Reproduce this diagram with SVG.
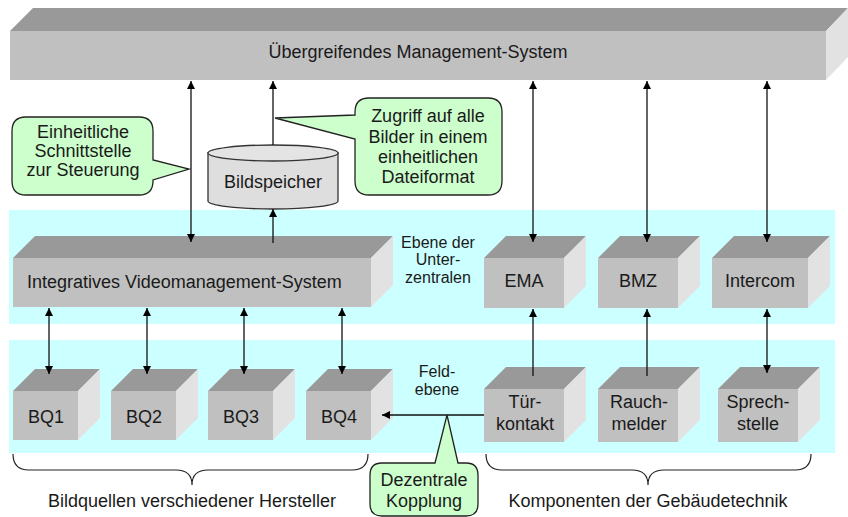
<svg xmlns="http://www.w3.org/2000/svg" width="848" height="517" viewBox="0 0 848 517">
<defs>
<style>
.t{fill:#999999}.f{fill:#c0c0c0}.s{fill:#e2e2e2}
.band{fill:#ccffff}
.txt{font-family:"Liberation Sans",Arial,sans-serif;font-size:18px;fill:#1a1a1a;text-anchor:middle}
.sm{font-size:16px}
.call{fill:#ccffcc;stroke:#222;stroke-width:1.3}
.con{stroke:#111;stroke-width:1.3;fill:none}
.brace{stroke:#222;stroke-width:1.2;fill:none}
</style>
<marker id="ah" viewBox="0 0 10 10" refX="10" refY="5" markerWidth="8" markerHeight="8" markerUnits="userSpaceOnUse" orient="auto-start-reverse">
<path d="M0,0 L10,5 L0,10 Z" fill="#000"/>
</marker>
</defs>
<rect width="848" height="517" fill="#ffffff"/>
<g id="bands">
<rect class="band" x="9" y="210" width="826" height="114"/>
<rect class="band" x="9" y="340" width="826" height="113"/>
</g>
<g id="mgmt">
<polygon class="t" points="10,31 33,8 848,8 826,31"/>
<polygon class="f" points="10,31 826,31 826,80 10,80"/>
<polygon class="s" points="826,31 848,8 848,57 826,80"/>
<text class="txt" x="418" y="58">Übergreifendes Management-System</text>
</g>
<g id="ivs">
<polygon class="t" points="13,258 35,236 393,236 371,258"/>
<polygon class="f" points="13,258 371,258 371,307 13,307"/>
<polygon class="s" points="371,258 393,236 393,285 371,307"/>
<text class="txt" x="27" y="288" style="text-anchor:start">Integratives Videomanagement-System</text>
</g>
<g id="ema">
<polygon class="t" points="484,258 506,236 586,236 564,258"/>
<polygon class="f" points="484,258 564,258 564,308 484,308"/>
<polygon class="s" points="564,258 586,236 586,286 564,308"/>
<text class="txt" x="524" y="287">EMA</text>
</g>
<g id="bmz">
<polygon class="t" points="598,258 620,236 700,236 678,258"/>
<polygon class="f" points="598,258 678,258 678,308 598,308"/>
<polygon class="s" points="678,258 700,236 700,286 678,308"/>
<text class="txt" x="638" y="287">BMZ</text>
</g>
<g id="intercom">
<polygon class="t" points="712,258 734,236 830,236 808,258"/>
<polygon class="f" points="712,258 808,258 808,308 712,308"/>
<polygon class="s" points="808,258 830,236 830,286 808,308"/>
<text class="txt" x="760" y="287">Intercom</text>
</g>
<g id="bq1">
<polygon class="t" points="13,391 35,369 100,369 78,391"/>
<polygon class="f" points="13,391 78,391 78,440 13,440"/>
<polygon class="s" points="78,391 100,369 100,418 78,440"/>
<text class="txt" x="46" y="423">BQ1</text>
</g>
<g id="bq2">
<polygon class="t" points="111,391 133,369 198,369 176,391"/>
<polygon class="f" points="111,391 176,391 176,440 111,440"/>
<polygon class="s" points="176,391 198,369 198,418 176,440"/>
<text class="txt" x="144" y="423">BQ2</text>
</g>
<g id="bq3">
<polygon class="t" points="208,391 230,369 295,369 273,391"/>
<polygon class="f" points="208,391 273,391 273,440 208,440"/>
<polygon class="s" points="273,391 295,369 295,418 273,440"/>
<text class="txt" x="241" y="423">BQ3</text>
</g>
<g id="bq4">
<polygon class="t" points="306,391 328,369 393,369 371,391"/>
<polygon class="f" points="306,391 371,391 371,440 306,440"/>
<polygon class="s" points="371,391 393,369 393,418 371,440"/>
<text class="txt" x="339" y="423">BQ4</text>
</g>
<g id="tuer">
<polygon class="t" points="484,389 506,367 586,367 564,389"/>
<polygon class="f" points="484,389 564,389 564,442 484,442"/>
<polygon class="s" points="564,389 586,367 586,420 564,442"/>
<text class="txt" x="525" y="408">Tür-</text>
<text class="txt" x="525" y="430">kontakt</text>
</g>
<g id="rauch">
<polygon class="t" points="598,389 620,367 700,367 678,389"/>
<polygon class="f" points="598,389 678,389 678,442 598,442"/>
<polygon class="s" points="678,389 700,367 700,420 678,442"/>
<text class="txt" x="639" y="408">Rauch-</text>
<text class="txt" x="639" y="430">melder</text>
</g>
<g id="sprech">
<polygon class="t" points="718,389 740,367 820,367 798,389"/>
<polygon class="f" points="718,389 798,389 798,442 718,442"/>
<polygon class="s" points="798,389 820,367 820,420 798,442"/>
<text class="txt" x="758" y="408">Sprech-</text>
<text class="txt" x="758" y="430">stelle</text>
</g>
<g id="bildspeicher">
<path d="M208,153 V201 A65,8 0 0 0 338,201 V153 Z" fill="#dedede" stroke="#333" stroke-width="1.3"/>
<ellipse cx="273" cy="153" rx="65" ry="8" fill="#e4e4e4" stroke="#333" stroke-width="1.3"/>
<text class="txt" x="273" y="188">Bildspeicher</text>
</g>
<g id="labels">
<text class="txt sm" x="438" y="248">Ebene der</text>
<text class="txt sm" x="438" y="265">Unter-</text>
<text class="txt sm" x="438" y="283">zentralen</text>
<text class="txt sm" x="437" y="377">Feld-</text>
<text class="txt sm" x="437" y="395">ebene</text>
<text class="txt" x="192" y="507">Bildquellen verschiedener Hersteller</text>
<text class="txt" x="648" y="507">Komponenten der Gebäudetechnik</text>
</g>
<g id="braces">
<path class="brace" d="M13,454 Q13,470 29,470 L176,470 Q192,470 192,485 Q192,470 208,470 L352,470 Q368,470 368,454"/>
<path class="brace" d="M486,454 Q486,470 502,470 L632,470 Q648,470 648,485 Q648,470 664,470 L795,470 Q811,470 811,454"/>
</g>
<g id="connectors">
<line class="con" x1="191" y1="81" x2="191" y2="242" marker-start="url(#ah)" marker-end="url(#ah)"/>
<line class="con" x1="273" y1="145" x2="273" y2="81" marker-end="url(#ah)"/>
<line class="con" x1="273" y1="243" x2="273" y2="209" marker-end="url(#ah)"/>
<line class="con" x1="533" y1="81" x2="533" y2="242" marker-start="url(#ah)" marker-end="url(#ah)"/>
<line class="con" x1="647" y1="81" x2="647" y2="242" marker-start="url(#ah)" marker-end="url(#ah)"/>
<line class="con" x1="767" y1="81" x2="767" y2="242" marker-start="url(#ah)" marker-end="url(#ah)"/>
<line class="con" x1="49" y1="308" x2="49" y2="374" marker-start="url(#ah)" marker-end="url(#ah)"/>
<line class="con" x1="147" y1="308" x2="147" y2="374" marker-start="url(#ah)" marker-end="url(#ah)"/>
<line class="con" x1="244" y1="308" x2="244" y2="374" marker-start="url(#ah)" marker-end="url(#ah)"/>
<line class="con" x1="342" y1="308" x2="342" y2="374" marker-start="url(#ah)" marker-end="url(#ah)"/>
<line class="con" x1="533" y1="376" x2="533" y2="309" marker-end="url(#ah)"/>
<line class="con" x1="647" y1="376" x2="647" y2="309" marker-end="url(#ah)"/>
<line class="con" x1="767" y1="309" x2="767" y2="373" marker-start="url(#ah)" marker-end="url(#ah)"/>
<line class="con" x1="484" y1="415" x2="382" y2="415" marker-end="url(#ah)"/>
</g>
<g id="callout-schnittstelle">
<path class="call" d="M26,117 H139 Q153,117 153,131 V160 L189,169 L153,180 V181 Q153,195 139,195 H26 Q12,195 12,181 V131 Q12,117 26,117 Z"/>
<text class="txt" x="83" y="138">Einheitliche</text>
<text class="txt" x="83" y="157">Schnittstelle</text>
<text class="txt" x="83" y="176">zur Steuerung</text>
</g>
<g id="callout-zugriff">
<path class="call" d="M369,98 H488 Q502,98 502,112 V181 Q502,195 488,195 H369 Q355,195 355,181 V139 L275,118 L355,115 V112 Q355,98 369,98 Z"/>
<text class="txt" x="428" y="122">Zugriff auf alle</text>
<text class="txt" x="428" y="143">Bilder in einem</text>
<text class="txt" x="428" y="163">einheitlichen</text>
<text class="txt" x="428" y="183">Dateiformat</text>
</g>
<g id="callout-kopplung">
<path class="call" d="M382,463 H435 L447,415 L458,463 H466 Q478,463 478,475 V504 Q478,516 466,516 H382 Q370,516 370,504 V475 Q370,463 382,463 Z"/>
<text class="txt" x="424" y="486">Dezentrale</text>
<text class="txt" x="424" y="507">Kopplung</text>
</g>
</svg>
